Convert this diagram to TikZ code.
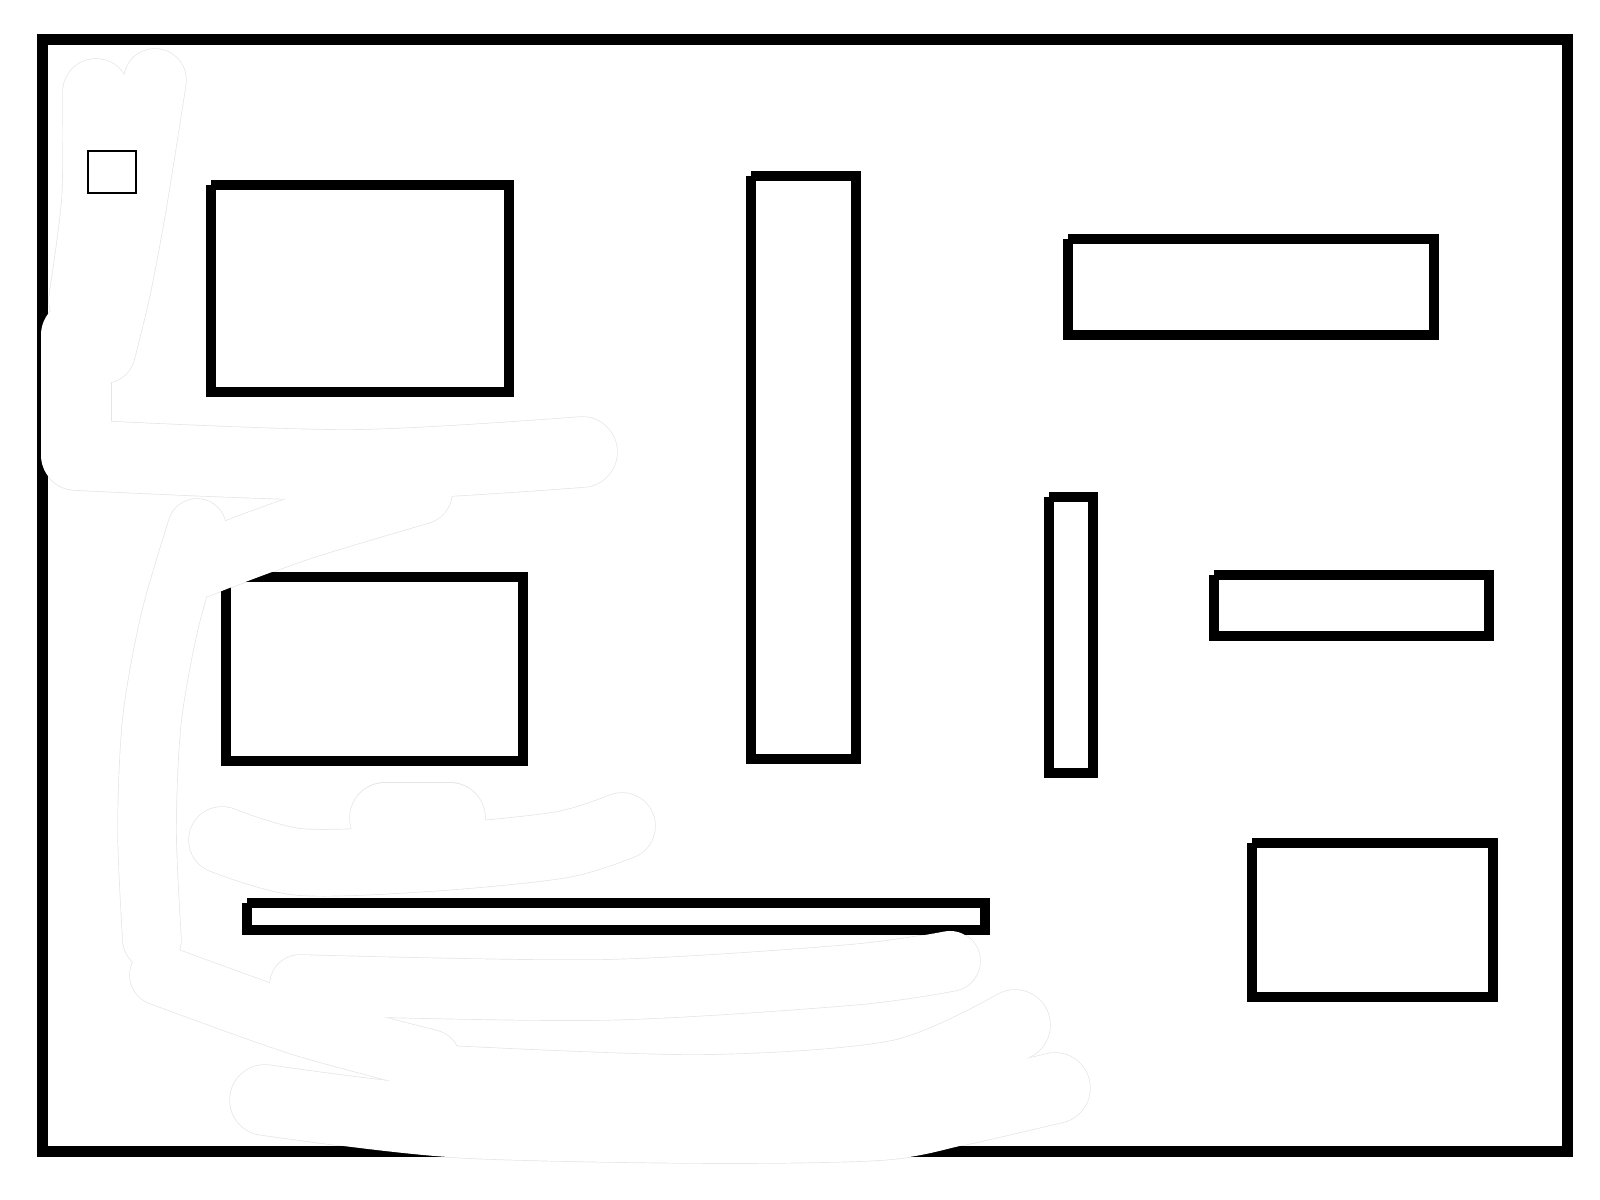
\documentclass[tikz,border=0pt]{standalone}
\usepackage{tikz}

\newcommand{\rubout}[2]{%
\draw[#1,line width=6.6mm+#2] plot[smooth] coordinates {(96,92) (95,200) (82,300)};
\draw[#1,line width=6.2mm+#2] plot[smooth] coordinates {(155,80) (136,200) (120,286) (104,352)};
\draw[#1,line width=7mm+#2] (76,335) -- (76,450);
\draw[#1,line width=7mm+#2] plot[smooth] coordinates {(76,455) (350,465) (582,452)};
\draw[#1,line width=6.4mm+#2] plot[smooth] coordinates {(200,565) (300,528) (420,492)};
\draw[#1,line width=5.8mm+#2] plot[smooth] coordinates {(197,528) (170,620) (152,720) (147,830) (152,940)};
\draw[#1,line width=6.6mm+#2] plot[smooth] coordinates {(222,840) (300,862) (430,858) (560,845) (622,826)};
\draw[#1,line width=7mm+#2] (385,818) -- (450,818);
\draw[#1,line width=6mm+#2] plot[smooth] coordinates {(160,975) (300,1025) (430,1060)};
\draw[#1,line width=6mm+#2] plot[smooth] coordinates {(300,985) (600,990) (850,975) (950,961)};
\draw[#1,line width=7mm+#2] plot[smooth] coordinates {(430,1080) (700,1090) (900,1075) (1015,1025)};
\draw[#1,line width=7mm+#2] plot[smooth] coordinates {(265,1100) (450,1122) (700,1128) (880,1125) (960,1110) (1055,1088)};
}

\begin{document}
\begin{tikzpicture}[x=0.01cm,y=-0.01cm,
  wall/.style={line width=1.1mm},
  box/.style={line width=1mm,line cap=butt,line join=miter},
  rub/.style={white,line cap=round,line join=round},
  rubedge/.style={gray!20,line cap=round,line join=round}]
\useasboundingbox (0,0) rectangle (1600,1200);
\rubout{rubedge}{0.14mm}
\draw[wall] (42.5,39.5) rectangle (1567.5,1151.5);
\draw[box] (211,185) -- (211,392) -- (509,392) -- (509,185) -- (211,185);
\draw[box] (751,176) -- (751,759) -- (856,759) -- (856,176) -- (751,176);
\draw[box] (1068,239) -- (1068,335) -- (1434,335) -- (1434,239) -- (1068,239);
\draw[box] (226,577) -- (226,761) -- (523,761) -- (523,577) -- (226,577);
\draw[box] (1049,497) -- (1049,773) -- (1093,773) -- (1093,497) -- (1049,497);
\draw[box] (1214,575) -- (1214,636) -- (1489,636) -- (1489,575) -- (1214,575);
\draw[box] (247,903) -- (247,930) -- (985,930) -- (985,903) -- (247,903);
\draw[box] (1252,843) -- (1252,997) -- (1493,997) -- (1493,843) -- (1252,843);
\rubout{rub}{0mm}
\draw[line width=0.2mm] (88,151) rectangle (136,193);
\end{tikzpicture}
\end{document}
